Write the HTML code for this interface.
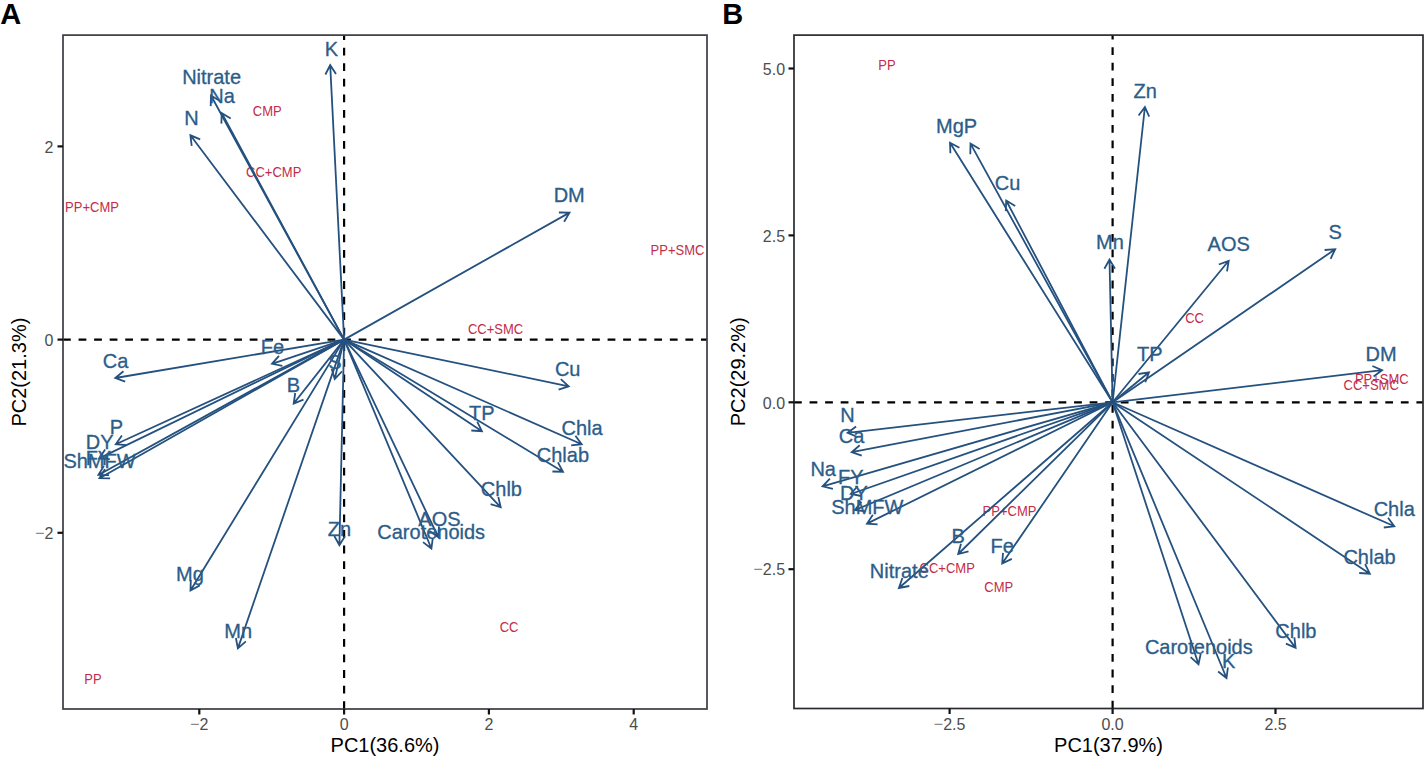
<!DOCTYPE html>
<html><head><meta charset="utf-8"><title>PCA biplots</title>
<style>html,body{margin:0;padding:0;background:#fff;overflow:hidden}svg{display:block}text{font-family:"Liberation Sans",sans-serif}</style>
</head><body>
<svg width="1427" height="760" viewBox="0 0 1427 760" font-family="Liberation Sans, sans-serif">
<rect width="1427" height="760" fill="#fff"/>
<g stroke="#000" stroke-width="2.2" stroke-dasharray="7.78 7.78" fill="none">
<line x1="63.0" y1="339.6" x2="707" y2="339.6"/>
<line x1="344.1" y1="709" x2="344.1" y2="35.1"/>
</g>
<g font-size="14.6" fill="#c42c48" text-anchor="middle">
<text transform="translate(267.2 115.8) scale(0.89 1)">CMP</text>
<text transform="translate(273.7 177.4) scale(0.89 1)">CC+CMP</text>
<text transform="translate(92.0 211.5) scale(0.89 1)">PP+CMP</text>
<text transform="translate(677.5 254.5) scale(0.89 1)">PP+SMC</text>
<text transform="translate(495.6 333.5) scale(0.89 1)">CC+SMC</text>
<text transform="translate(509.0 631.5) scale(0.89 1)">CC</text>
<text transform="translate(93.0 683.8) scale(0.89 1)">PP</text>
</g>
<g stroke="#25517f" stroke-width="1.8" fill="none" stroke-linecap="butt" stroke-linejoin="miter">
<path d="M344.1 339.6L330.2 65.1M325.4 74.5L330.2 65.1L336.0 74.0"/>
<path d="M344.1 339.6L211.0 95.5M210.7 106.1L211.0 95.5L220.0 101.0"/>
<path d="M344.1 339.6L221.7 113.0M221.4 123.6L221.7 113.0L230.7 118.6"/>
<path d="M344.1 339.6L190.4 135.3M191.7 145.8L190.4 135.3L200.2 139.4"/>
<path d="M344.1 339.6L569.5 212.6M558.9 212.5L569.5 212.6L564.1 221.7"/>
<path d="M344.1 339.6L115.3 378.0M125.2 381.7L115.3 378.0L123.5 371.3"/>
<path d="M344.1 339.6L272.0 363.8M282.4 365.9L272.0 363.8L279.0 355.9"/>
<path d="M344.1 339.6L334.7 379.0M342.0 371.3L334.7 379.0L331.7 368.8"/>
<path d="M344.1 339.6L293.7 403.5M303.5 399.6L293.7 403.5L295.2 393.0"/>
<path d="M344.1 339.6L115.8 444.2M126.4 445.2L115.8 444.2L121.9 435.6"/>
<path d="M344.1 339.6L99.2 458.4M109.8 459.2L99.2 458.4L105.1 449.6"/>
<path d="M344.1 339.6L98.4 475.0M109.0 475.2L98.4 475.0L103.9 465.9"/>
<path d="M344.1 339.6L99.5 478.2M110.1 478.3L99.5 478.2L104.9 469.1"/>
<path d="M344.1 339.6L568.7 386.3M560.8 379.2L568.7 386.3L558.6 389.6"/>
<path d="M344.1 339.6L481.9 431.2M477.2 421.7L481.9 431.2L471.3 430.5"/>
<path d="M344.1 339.6L581.7 444.2M575.4 435.7L581.7 444.2L571.2 445.4"/>
<path d="M344.1 339.6L563.0 471.7M557.9 462.4L563.0 471.7L552.4 471.5"/>
<path d="M344.1 339.6L500.7 507.3M498.3 497.0L500.7 507.3L490.6 504.2"/>
<path d="M344.1 339.6L438.2 537.0M439.0 526.4L438.2 537.0L429.5 531.0"/>
<path d="M344.1 339.6L431.4 548.5M432.8 538.0L431.4 548.5L423.0 542.1"/>
<path d="M344.1 339.6L339.4 545.3M344.9 536.2L339.4 545.3L334.3 536.0"/>
<path d="M344.1 339.6L190.5 590.5M199.8 585.4L190.5 590.5L190.8 579.9"/>
<path d="M344.1 339.6L237.9 648.4M245.9 641.4L237.9 648.4L235.9 638.0"/>
</g>
<g font-size="20" fill="#2c5d89" stroke="#2c5d89" stroke-width="0.3" text-anchor="middle">
<text transform="translate(331.3 55.6) scale(1 1.05)">K</text>
<text transform="translate(211.6 84.0) scale(1 1.05)">Nitrate</text>
<text transform="translate(222.1 102.5) scale(1 1.05)">Na</text>
<text transform="translate(191.5 125.0) scale(1 1.05)">N</text>
<text transform="translate(569.2 202.2) scale(1 1.05)">DM</text>
<text transform="translate(115.6 368.0) scale(1 1.05)">Ca</text>
<text transform="translate(272.5 354.0) scale(1 1.05)">Fe</text>
<text transform="translate(335.0 369.0) scale(1 1.05)">S</text>
<text transform="translate(293.4 392.2) scale(1 1.05)">B</text>
<text transform="translate(116.5 434.2) scale(1 1.05)">P</text>
<text transform="translate(99.6 448.6) scale(1 1.05)">DY</text>
<text transform="translate(98.4 465.0) scale(1 1.05)">FY</text>
<text transform="translate(99.5 468.2) scale(1 1.05)">ShMFW</text>
<text transform="translate(567.7 376.0) scale(1 1.05)">Cu</text>
<text transform="translate(481.8 419.5) scale(1 1.05)">TP</text>
<text transform="translate(582.1 435.0) scale(1 1.05)">Chla</text>
<text transform="translate(562.9 461.5) scale(1 1.05)">Chlab</text>
<text transform="translate(501.4 496.2) scale(1 1.05)">Chlb</text>
<text transform="translate(439.4 526.0) scale(1 1.05)">AOS</text>
<text transform="translate(431.2 539.0) scale(1 1.05)">Carotenoids</text>
<text transform="translate(339.4 535.5) scale(1 1.05)">Zn</text>
<text transform="translate(190.0 581.0) scale(1 1.05)">Mg</text>
<text transform="translate(238.2 637.7) scale(1 1.05)">Mn</text>
</g>
<rect x="63.0" y="35.1" width="644.0" height="673.9" fill="none" stroke="#3a3c42" stroke-width="1.7"/>
<g stroke="#111" stroke-width="2.2">
<line x1="199.3" y1="709" x2="199.3" y2="714.5"/>
<line x1="344.1" y1="709" x2="344.1" y2="714.5"/>
<line x1="488.9" y1="709" x2="488.9" y2="714.5"/>
<line x1="633.7" y1="709" x2="633.7" y2="714.5"/>
<line x1="57.5" y1="532.8" x2="63.0" y2="532.8"/>
<line x1="57.5" y1="339.6" x2="63.0" y2="339.6"/>
<line x1="57.5" y1="146.4" x2="63.0" y2="146.4"/>
</g>
<g font-size="16" fill="#4d4d4d">
<text transform="translate(199.3 730.3) scale(1 1.06)" text-anchor="middle"><tspan fill="#8a8a8a">−</tspan>2</text>
<text transform="translate(344.1 730.3) scale(1 1.06)" text-anchor="middle">0</text>
<text transform="translate(488.9 730.3) scale(1 1.06)" text-anchor="middle">2</text>
<text transform="translate(633.7 730.3) scale(1 1.06)" text-anchor="middle">4</text>
<text transform="translate(53.4 539.0) scale(1 1.06)" text-anchor="end"><tspan fill="#8a8a8a">−</tspan>2</text>
<text transform="translate(53.4 345.8) scale(1 1.06)" text-anchor="end">0</text>
<text transform="translate(53.4 152.6) scale(1 1.06)" text-anchor="end">2</text>
</g>
<text transform="translate(385.0 752.3) scale(1 1.05)" font-size="20" fill="#000" text-anchor="middle">PC1(36.6%)</text>
<g stroke="#000" stroke-width="2.2" stroke-dasharray="7.78 7.78" fill="none">
<line x1="794.0" y1="402.3" x2="1423" y2="402.3"/>
<line x1="1112.6" y1="708.5" x2="1112.6" y2="35.1"/>
</g>
<g font-size="14.6" fill="#c42c48" text-anchor="middle">
<text transform="translate(887.0 70.0) scale(0.89 1)">PP</text>
<text transform="translate(1194.5 323.0) scale(0.89 1)">CC</text>
<text transform="translate(1381.8 383.6) scale(0.89 1)">PP+SMC</text>
<text transform="translate(1371.2 390.0) scale(0.89 1)">CC+SMC</text>
<text transform="translate(1009.5 515.8) scale(0.89 1)">PP+CMP</text>
<text transform="translate(947.2 572.5) scale(0.89 1)">CC+CMP</text>
<text transform="translate(998.7 592.0) scale(0.89 1)">CMP</text>
</g>
<g stroke="#25517f" stroke-width="1.8" fill="none" stroke-linecap="butt" stroke-linejoin="miter">
<path d="M1112.6 402.3L1144.9 107.0M1138.6 115.5L1144.9 107.0L1149.2 116.7"/>
<path d="M1112.6 402.3L950.0 142.7M950.4 153.3L950.0 142.7L959.4 147.7"/>
<path d="M1112.6 402.3L970.5 143.6M970.3 154.2L970.5 143.6L979.6 149.1"/>
<path d="M1112.6 402.3L1006.2 200.5M1005.8 211.1L1006.2 200.5L1015.2 206.1"/>
<path d="M1112.6 402.3L1109.5 259.5M1104.4 268.8L1109.5 259.5L1115.0 268.6"/>
<path d="M1112.6 402.3L1228.7 260.8M1218.8 264.5L1228.7 260.8L1227.0 271.3"/>
<path d="M1112.6 402.3L1335.2 249.2M1324.6 250.0L1335.2 249.2L1330.6 258.8"/>
<path d="M1112.6 402.3L1149.0 372.3M1138.5 374.0L1149.0 372.3L1145.3 382.2"/>
<path d="M1112.6 402.3L1382.1 370.2M1372.4 366.0L1382.1 370.2L1373.6 376.5"/>
<path d="M1112.6 402.3L847.6 432.8M857.3 437.0L847.6 432.8L856.1 426.5"/>
<path d="M1112.6 402.3L851.7 452.2M861.7 455.7L851.7 452.2L859.7 445.3"/>
<path d="M1112.6 402.3L822.6 486.3M832.9 488.8L822.6 486.3L829.9 478.7"/>
<path d="M1112.6 402.3L850.8 494.0M861.2 496.0L850.8 494.0L857.7 486.0"/>
<path d="M1112.6 402.3L855.0 510.0M865.5 511.3L855.0 510.0L861.4 501.6"/>
<path d="M1112.6 402.3L867.0 523.6M877.6 524.3L867.0 523.6L872.9 514.8"/>
<path d="M1112.6 402.3L958.2 554.0M968.5 551.3L958.2 554.0L961.0 543.8"/>
<path d="M1112.6 402.3L1002.2 563.5M1011.8 558.9L1002.2 563.5L1003.0 552.9"/>
<path d="M1112.6 402.3L898.9 588.0M909.3 586.0L898.9 588.0L902.4 578.0"/>
<path d="M1112.6 402.3L1394.3 526.3M1388.0 517.8L1394.3 526.3L1383.8 527.5"/>
<path d="M1112.6 402.3L1369.8 573.7M1365.1 564.2L1369.8 573.7L1359.2 573.0"/>
<path d="M1112.6 402.3L1295.6 647.9M1294.4 637.4L1295.6 647.9L1285.9 643.7"/>
<path d="M1112.6 402.3L1198.5 664.3M1200.7 653.9L1198.5 664.3L1190.6 657.2"/>
<path d="M1112.6 402.3L1226.5 678.0M1227.9 667.5L1226.5 678.0L1218.1 671.5"/>
</g>
<g font-size="20" fill="#2c5d89" stroke="#2c5d89" stroke-width="0.3" text-anchor="middle">
<text transform="translate(1145.1 98.4) scale(1 1.05)">Zn</text>
<text transform="translate(950.0 132.7) scale(1 1.05)">Mg</text>
<text transform="translate(970.5 132.7) scale(1 1.05)">P</text>
<text transform="translate(1007.6 190.0) scale(1 1.05)">Cu</text>
<text transform="translate(1109.9 249.0) scale(1 1.05)">Mn</text>
<text transform="translate(1228.7 250.7) scale(1 1.05)">AOS</text>
<text transform="translate(1335.2 239.0) scale(1 1.05)">S</text>
<text transform="translate(1149.7 360.7) scale(1 1.05)">TP</text>
<text transform="translate(1381.0 360.7) scale(1 1.05)">DM</text>
<text transform="translate(847.5 422.0) scale(1 1.05)">N</text>
<text transform="translate(851.6 443.0) scale(1 1.05)">Ca</text>
<text transform="translate(823.2 476.3) scale(1 1.05)">Na</text>
<text transform="translate(850.8 484.0) scale(1 1.05)">FY</text>
<text transform="translate(854.0 499.5) scale(1 1.05)">DY</text>
<text transform="translate(867.3 513.5) scale(1 1.05)">ShMFW</text>
<text transform="translate(958.2 543.2) scale(1 1.05)">B</text>
<text transform="translate(1002.1 552.7) scale(1 1.05)">Fe</text>
<text transform="translate(899.3 578.3) scale(1 1.05)">Nitrate</text>
<text transform="translate(1394.2 516.3) scale(1 1.05)">Chla</text>
<text transform="translate(1369.5 563.6) scale(1 1.05)">Chlab</text>
<text transform="translate(1295.9 637.5) scale(1 1.05)">Chlb</text>
<text transform="translate(1198.8 654.4) scale(1 1.05)">Carotenoids</text>
<text transform="translate(1228.6 667.6) scale(1 1.05)">K</text>
</g>
<rect x="794.0" y="35.1" width="629.0" height="673.4" fill="none" stroke="#2a2b30" stroke-width="1.7"/>
<g stroke="#111" stroke-width="2.2">
<line x1="949.6" y1="708.5" x2="949.6" y2="714.0"/>
<line x1="1112.6" y1="708.5" x2="1112.6" y2="714.0"/>
<line x1="1275.5" y1="708.5" x2="1275.5" y2="714.0"/>
<line x1="788.5" y1="569.2" x2="794.0" y2="569.2"/>
<line x1="788.5" y1="402.3" x2="794.0" y2="402.3"/>
<line x1="788.5" y1="235.4" x2="794.0" y2="235.4"/>
<line x1="788.5" y1="68.5" x2="794.0" y2="68.5"/>
</g>
<g font-size="16" fill="#4d4d4d">
<text transform="translate(949.6 729.8) scale(1 1.06)" text-anchor="middle"><tspan fill="#8a8a8a">−</tspan>2.5</text>
<text transform="translate(1112.6 729.8) scale(1 1.06)" text-anchor="middle">0.0</text>
<text transform="translate(1275.5 729.8) scale(1 1.06)" text-anchor="middle">2.5</text>
<text transform="translate(785.1 575.4) scale(1 1.06)" text-anchor="end"><tspan fill="#8a8a8a">−</tspan>2.5</text>
<text transform="translate(785.1 408.5) scale(1 1.06)" text-anchor="end">0.0</text>
<text transform="translate(785.1 241.6) scale(1 1.06)" text-anchor="end">2.5</text>
<text transform="translate(785.1 74.7) scale(1 1.06)" text-anchor="end">5.0</text>
</g>
<text transform="translate(1108.5 752.3) scale(1 1.05)" font-size="20" fill="#000" text-anchor="middle">PC1(37.9%)</text>
<text font-size="20" fill="#000" text-anchor="middle" transform="translate(25.8 372.1) rotate(-90) scale(1 1.05)">PC2(21.3%)</text>
<text font-size="20" fill="#000" text-anchor="middle" transform="translate(744.9 371.8) rotate(-90) scale(1 1.05)">PC2(29.2%)</text>
<text x="0.2" y="23.5" font-size="29" font-weight="bold" fill="#000">A</text>
<text x="722.3" y="23.8" font-size="29" font-weight="bold" fill="#000">B</text>
</svg>
</body></html>
